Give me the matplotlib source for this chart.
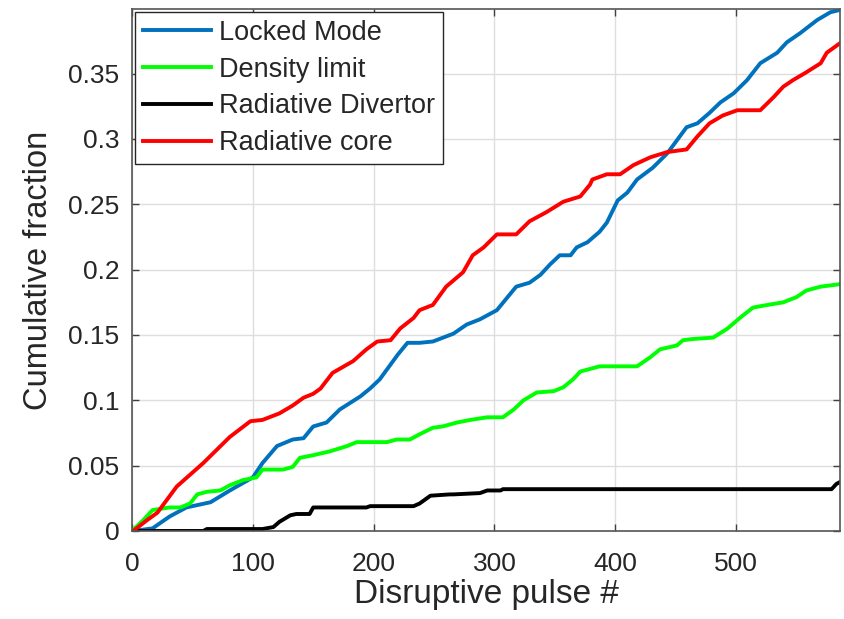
import numpy as np
import matplotlib.pyplot as plt

plt.rcParams['font.family'] = ['Liberation Sans', 'DejaVu Sans']

# 读取自图中的曲线点 (横轴: 破裂炮号序号, 纵轴: 累计比例)
lm_x = [0, 1, 17, 31, 45, 65, 81, 100, 108, 120, 133, 142, 150, 161, 172, 189, 197, 205,
        220, 228, 238, 249, 266, 277, 288, 302, 310, 318, 329, 338, 346, 354, 363, 368,
        377, 387, 393, 402, 410, 418, 431, 443, 451, 459, 468, 478, 487, 498, 509, 520,
        534, 542, 553, 567, 578, 587]
lm_y = [0.0, 0.0, 0.002, 0.011, 0.018, 0.022, 0.031, 0.041, 0.052, 0.065, 0.070, 0.071,
        0.080, 0.083, 0.093, 0.103, 0.109, 0.116, 0.135, 0.144, 0.144, 0.145, 0.151,
        0.158, 0.162, 0.169, 0.178, 0.187, 0.190, 0.196, 0.204, 0.211, 0.211, 0.217,
        0.221, 0.229, 0.236, 0.253, 0.259, 0.269, 0.278, 0.289, 0.299, 0.309, 0.312,
        0.320, 0.328, 0.335, 0.345, 0.358, 0.366, 0.374, 0.381, 0.391, 0.397, 0.399]

dl_x = [0, 1, 9, 17, 31, 40, 48, 54, 62, 73, 81, 92, 103, 108, 125, 133, 139, 150, 164,
        178, 186, 211, 219, 230, 238, 249, 257, 269, 280, 294, 307, 316, 324, 335, 349,
        357, 365, 371, 387, 418, 429, 437, 451, 456, 465, 481, 493, 503, 514, 526, 539,
        550, 558, 570, 587]
dl_y = [0.0, 0.001, 0.008, 0.016, 0.018, 0.018, 0.021, 0.028, 0.030, 0.031, 0.035, 0.039,
        0.041, 0.047, 0.047, 0.049, 0.056, 0.058, 0.061, 0.065, 0.068, 0.068, 0.070,
        0.070, 0.074, 0.079, 0.080, 0.083, 0.085, 0.087, 0.087, 0.093, 0.100, 0.106,
        0.107, 0.110, 0.116, 0.122, 0.126, 0.126, 0.133, 0.139, 0.142, 0.146, 0.147,
        0.148, 0.155, 0.163, 0.171, 0.173, 0.175, 0.179, 0.184, 0.187, 0.189]

rd_x = [0, 59, 62, 108, 117, 122, 131, 136, 147, 150, 194, 197, 233, 238, 247, 263, 266,
        288, 294, 305, 307, 579, 583, 587]
rd_y = [0.0, 0.0, 0.0015, 0.0015, 0.003, 0.007, 0.012, 0.013, 0.013, 0.018, 0.018,
        0.019, 0.019, 0.021, 0.027, 0.028, 0.028, 0.029, 0.031, 0.031, 0.032, 0.032,
        0.036, 0.038]

rc_x = [0, 1, 12, 21, 29, 37, 48, 59, 70, 81, 98, 108, 122, 133, 142, 150, 156, 166, 183,
        194, 203, 214, 222, 233, 238, 249, 260, 274, 282, 291, 302, 318, 329, 343, 357,
        371, 379, 381, 393, 404, 415, 429, 443, 459, 468, 478, 489, 501, 520, 531, 539,
        547, 558, 570, 575, 587]
rc_y = [0.0, 0.0, 0.008, 0.014, 0.024, 0.034, 0.043, 0.052, 0.062, 0.072, 0.084, 0.085,
        0.090, 0.096, 0.102, 0.105, 0.109, 0.121, 0.130, 0.139, 0.145, 0.146, 0.155,
        0.163, 0.169, 0.173, 0.187, 0.198, 0.211, 0.217, 0.227, 0.227, 0.237, 0.244,
        0.252, 0.256, 0.265, 0.269, 0.273, 0.273, 0.280, 0.286, 0.290, 0.292, 0.302,
        0.312, 0.318, 0.322, 0.322, 0.332, 0.340, 0.345, 0.351, 0.358, 0.366, 0.374]

labels = ['Locked Mode', 'Density limit', 'Radiative Divertor', 'Radiative core']
colors = ['#0072BD', '#00FF00', 'black', '#FF0000']

x_ticks = [0, 100, 200, 300, 400, 500]
y_ticks = [0, 0.05, 0.1, 0.15, 0.2, 0.25, 0.3, 0.35]
y_ticklabels = ['0', '0.05', '0.1', '0.15', '0.2', '0.25', '0.3', '0.35']

fig = plt.figure(figsize=(8.44, 6.19), dpi=100)
ax = fig.add_axes([0.1564, 0.1422, 0.8389, 0.8433])

series = [(lm_x, lm_y), (dl_x, dl_y), (rd_x, rd_y), (rc_x, rc_y)]
for (xs, ys), lab, c in zip(series, labels, colors):
    ax.plot(xs, ys, color=c, linewidth=2.8, label=lab, solid_joinstyle='round')

ax.set_xlim(0, 586)
ax.set_ylim(0, 0.3995)
ax.set_xticks(x_ticks)
ax.set_yticks(y_ticks)
ax.set_yticklabels(y_ticklabels)

txt = '#262626'
ax.tick_params(direction='in', length=5, width=1, colors='#404040', labelcolor=txt,
               labelsize=19, top=True, right=True)
ax.tick_params(axis='y', pad=9)
ax.tick_params(axis='x', pad=15)
ax.grid(True, color='#dedede', linewidth=1)
for s in ax.spines.values():
    s.set_color('#555555')
    s.set_linewidth(1.2)

ax.set_xlabel('Disruptive pulse #', fontsize=24, color=txt, labelpad=2)
ax.set_ylabel('Cumulative fraction', fontsize=23.5, color=txt, labelpad=10)

leg = ax.legend(loc='upper left', fontsize=19.5, frameon=True, fancybox=False,
                handlelength=2.5, handletextpad=0.3, labelspacing=0.4,
                borderpad=0.3, borderaxespad=0.1)
leg.get_frame().set_edgecolor('#262626')
leg.get_frame().set_linewidth(1.0)
leg.get_frame().set_alpha(1)
for t in leg.get_texts():
    t.set_color(txt)

fig.savefig('out.png', dpi=100)
